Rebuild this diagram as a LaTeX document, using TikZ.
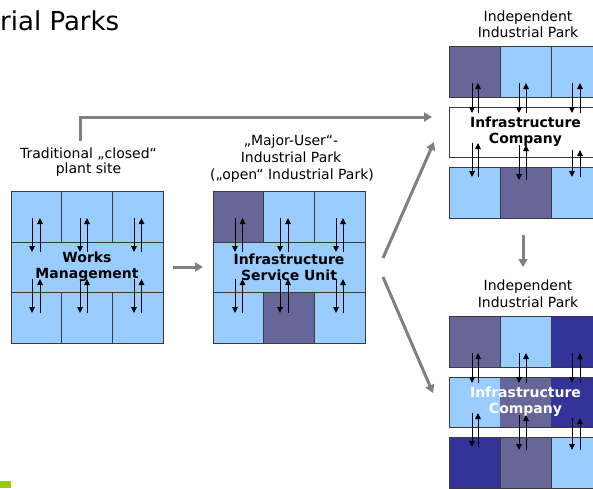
\documentclass[tikz,border=0pt]{standalone}
\usepackage{fontspec}
\setmainfont{DejaVu Sans}
\usetikzlibrary{arrows.meta}
\definecolor{lb}{HTML}{99CCFF}
\definecolor{dp}{HTML}{666699}
\definecolor{nv}{HTML}{333399}
\definecolor{bd}{HTML}{3A3A3A}
\definecolor{garrow}{HTML}{808080}
\definecolor{grn}{HTML}{99CC00}
\tikzset{
  cellbox/.style={draw=bd, line width=0.8pt, inner sep=0pt, outer sep=0pt, anchor=north west},
  sq/.style={cellbox, minimum width=50.67pt, minimum height=51pt},
  rsq/.style={cellbox, minimum width=51pt, minimum height=51pt},
  midrow/.style={cellbox, minimum height=50pt, align=center, font=\fontsize{14}{16}\selectfont\bfseries},
  lbl/.style={anchor=base, inner sep=0pt, font=\fontsize{14}{16}\selectfont},
  sarr/.style={draw=black, line width=0.9pt, -{Triangle[length=6pt,width=5.5pt]}},
  garr/.style={draw=garrow, line width=3pt, -{Triangle[length=8pt,width=9pt]}},
}
\newcommand\pairarrows[4]{%
  \draw[sarr] (#1,#3) -- (#1,#4);
  \draw[sarr] (#2,#4) -- (#2,#3);}
\begin{document}
\begin{tikzpicture}[x=1pt,y=-1pt]
\useasboundingbox (0,0) rectangle (593,488);
\clip (0,0) rectangle (593,488);
\fill[white] (0,0) rectangle (593,488);

% title fragment
\node[anchor=base west, inner sep=0pt, font=\fontsize{26}{30}\selectfont] (title) at (0,30) {rial Parks};

% ---------- block 1 ----------
\node[lbl] (t1a) at (88.5,158) {Traditional „closed“};
\node[lbl] (t1b) at (88.5,173.5) {plant site};
\node[sq, fill=lb] (a11) at (11,191) {};
\node[sq, fill=lb] (a12) at (61.67,191) {};
\node[sq, fill=lb] (a13) at (112.33,191) {};
\node[sq, fill=lb] (a31) at (11,292) {};
\node[sq, fill=lb] (a32) at (61.67,292) {};
\node[sq, fill=lb] (a33) at (112.33,292) {};
\node[midrow, fill=lb, minimum width=152pt] (b1m) at (11,242) {Works\\Management};
\pairarrows{32}{40}{218}{252}
\pairarrows{80}{87}{218}{252}
\pairarrows{134}{141.5}{218}{252}
\pairarrows{32}{40}{279}{313}
\pairarrows{80}{87}{279}{313}
\pairarrows{134}{141.5}{279}{313}

% ---------- block 2 ----------
\node[lbl] (t2a) at (291,145.5) {„Major-User“-};
\node[lbl] (t2b) at (291,162.5) {Industrial Park};
\node[lbl] (t2c) at (292,179.5) {(„open“ Industrial Park)};
\node[sq, fill=dp] (c11) at (213,191) {};
\node[sq, fill=lb] (c12) at (263.67,191) {};
\node[sq, fill=lb] (c13) at (314.33,191) {};
\node[sq, fill=lb] (c31) at (213,292) {};
\node[sq, fill=dp] (c32) at (263.67,292) {};
\node[sq, fill=lb] (c33) at (314.33,292) {};
\node[midrow, fill=lb, minimum width=152pt] (b2m) at (213,242) {Infrastructure\\Service Unit};
\pairarrows{235}{242.5}{218}{252}
\pairarrows{280}{288}{218}{252}
\pairarrows{336}{343}{218}{252}
\pairarrows{235}{242.5}{279}{313}
\pairarrows{280}{288}{279}{313}
\pairarrows{336}{343}{279}{313}

% ---------- top right block ----------
\node[lbl] (t3a) at (528,21.5) {Independent};
\node[lbl] (t3b) at (528,37.5) {Industrial Park};
\node[rsq, fill=dp] (d11) at (449,46) {};
\node[rsq, fill=lb] (d12) at (500,46) {};
\node[rsq, fill=lb] (d13) at (551,46) {};
\node[midrow, fill=white, minimum width=153pt] (trm) at (449,107) {Infrastructure\\Company};
\node[rsq, fill=lb] (d31) at (449,167) {};
\node[rsq, fill=dp] (d32) at (500,167) {};
\node[rsq, fill=lb] (d33) at (551,167) {};
\pairarrows{472}{478}{83}{113}
\pairarrows{519}{526}{83}{113}
\pairarrows{572}{580}{83}{113}
\pairarrows{472}{478}{143}{177}
\pairarrows{519}{526}{145}{180}
\pairarrows{572}{580}{150}{177}

% ---------- bottom right block ----------
\node[lbl] (t4a) at (528,290.5) {Independent};
\node[lbl] (t4b) at (528,307) {Industrial Park};
\node[rsq, fill=dp] (e11) at (449,316) {};
\node[rsq, fill=lb] (e12) at (500,316) {};
\node[rsq, fill=nv] (e13) at (551,316) {};
\fill[lb] (449,377) rectangle (500,427);
\fill[dp] (500,377) rectangle (551,427);
\fill[nv] (551,377) rectangle (602,427);
\node[midrow, text=white, minimum width=153pt] (brm) at (449,377) {Infrastructure\\Company};
\node[rsq, fill=nv] (e31) at (449,437) {};
\node[rsq, fill=dp] (e32) at (500,437) {};
\node[rsq, fill=lb] (e33) at (551,437) {};
\pairarrows{472}{478}{353}{383}
\pairarrows{519}{526}{353}{383}
\pairarrows{572}{580}{353}{383}
\pairarrows{472}{478}{413}{447}
\pairarrows{519}{526}{415}{450}
\pairarrows{572}{580}{418}{450}

% ---------- grey connectors ----------
\coordinate (gaS) at (80,141);
\coordinate (gaE) at (432,117);
\draw[garr] (gaS) |- (gaE);
\draw[garr, shorten <=10pt, shorten >=10pt] (b1m.east) -- (b2m.west);
\coordinate (gcS) at (383,258);
\coordinate (gcE) at (434,142);
\draw[garr] (gcS) -- (gcE);
\coordinate (gdS) at (383,277);
\coordinate (gdE) at (433,393);
\draw[garr] (gdS) -- (gdE);
\coordinate (geS) at (523,235);
\coordinate (geE) at (523,267);
\draw[garr] (geS) -- (geE);

% green marker
\fill[grn] (0,481) rectangle (11,488);
\end{tikzpicture}
\end{document}
